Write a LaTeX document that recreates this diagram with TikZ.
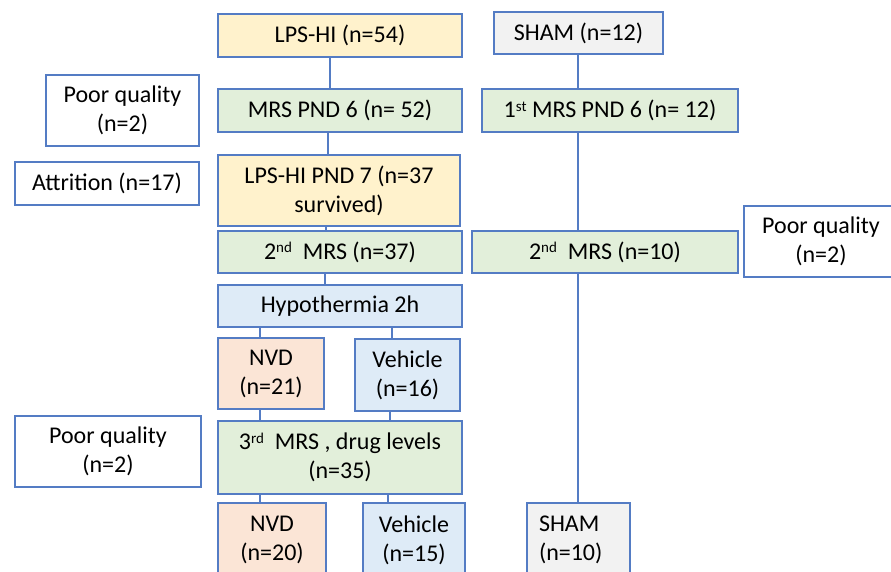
\documentclass[tikz,border=0pt]{standalone}
\usepackage{fontspec}
\setmainfont{Carlito}
\definecolor{bord}{RGB}{84,124,196}
\definecolor{fyel}{HTML}{FFF2CC}
\definecolor{fgrn}{HTML}{E2EFDA}
\definecolor{fblu}{HTML}{DEEBF7}
\definecolor{forg}{HTML}{FBE5D6}
\definecolor{fgry}{HTML}{F2F2F2}
\tikzset{
  box/.style={draw=bord, line width=1.4pt, align=center, inner sep=2pt,
    font=\fontsize{24}{29}\selectfont},
  link/.style={draw=bord, line width=1.4pt},
}
\newcommand{\sx}[1]{\raisebox{0.55ex}{\fontsize{15}{15}\selectfont #1}}
\begin{document}
\begin{tikzpicture}[x=1pt,y=-1pt]
\useasboundingbox (0,0) rectangle (891,572);
% left column
\node[box, fill=fyel, minimum width=244, minimum height=43] (lps) at (340,35.5) {LPS-HI (n=54)};
\node[box, fill=fgrn, minimum width=244, minimum height=43] (mrs6) at (340,110.5) {MRS PND 6 (n= 52)};
\node[box, fill=fyel, minimum width=242, minimum height=71] (pnd7) at (339,190.5) {LPS-HI PND 7 (n=37\\survived)};
\node[box, fill=fgrn, minimum width=244, minimum height=42] (mrs2) at (340,252) {2\sx{nd}\ \ MRS (n=37)};
\node[box, fill=fblu, minimum width=244, minimum height=42] (hypo) at (340,306) {Hypothermia 2h};
\node[box, fill=forg, minimum width=106, minimum height=71] (nvd1) at (271,373.5) {NVD\\(n=21)};
\node[box, fill=fblu, minimum width=105, minimum height=72] (veh1) at (407.5,375) {Vehicle\\(n=16)};
\node[box, fill=fgrn, minimum width=244, minimum height=73] (mrs3) at (340,457.5) {3\sx{rd}\ \ MRS , drug levels\\(n=35)};
\node[box, fill=forg, minimum width=108, minimum height=74] (nvd2) at (272,540) {NVD\\(n=20)};
\node[box, fill=fblu, minimum width=102, minimum height=74] (veh2) at (414,540) {Vehicle\\(n=15)};
% side boxes
\node[box, fill=white, minimum width=153, minimum height=71] (pq1) at (122.5,110.5) {Poor quality\\(n=2)};
\node[box, fill=white, minimum width=184, minimum height=43] (attr) at (107,183.5) {Attrition (n=17)};
\node[box, fill=white, minimum width=186, minimum height=71] (pq3) at (108,451.5) {Poor quality\\(n=2)};
\node[box, fill=white, minimum width=154, minimum height=71] (pqr) at (821,241.5) {Poor quality\\(n=2)};
% sham column
\node[box, fill=fgry, minimum width=169, minimum height=42] (sham) at (578.5,33) {SHAM (n=12)};
\node[box, fill=fgrn, minimum width=256, minimum height=43] (mrs1) at (610,110.5) {1\sx{st} MRS PND 6 (n= 12)};
\node[box, fill=fgrn, minimum width=266, minimum height=42] (mrsr2) at (605,252) {2\sx{nd}\ \ MRS (n=10)};
\node[box, fill=fgry, minimum width=103, minimum height=74, align=left, text width=79, inner xsep=12] (sham2) at (578.5,540) {SHAM\\(n=10)};
% connectors
\draw[link] ([xshift=-10]lps.south) -- ([xshift=-10]mrs6.north);
\draw[link] ([xshift=-12]mrs6.south) -- ([xshift=-11]pnd7.north);
\draw[link] ([xshift=-13]pnd7.south) -- ([xshift=-14]mrs2.north);
\draw[link] ([xshift=-15]mrs2.south) -- ([xshift=-15]hypo.north);
\draw[link] ([xshift=-80]hypo.south) -- ([xshift=-11]nvd1.north);
\draw[link] ([xshift=52]hypo.south) -- ([xshift=-15.5]veh1.north);
\draw[link] ([xshift=-11]nvd1.south) -- ([xshift=-80]mrs3.north);
\draw[link] ([xshift=-17.5]veh1.south) -- ([xshift=50]mrs3.north);
\draw[link] ([xshift=-80]mrs3.south) -- ([xshift=-12]nvd2.north);
\draw[link] ([xshift=48]mrs3.south) -- ([xshift=-26]veh2.north);
\draw[link] ([xshift=-0.5]sham.south) -- ([xshift=-32]mrs1.north);
\draw[link] ([xshift=-32]mrs1.south) -- ([xshift=-27]mrsr2.north);
\draw[link] ([xshift=-27]mrsr2.south) -- ([xshift=-0.5]sham2.north);
\end{tikzpicture}
\end{document}
